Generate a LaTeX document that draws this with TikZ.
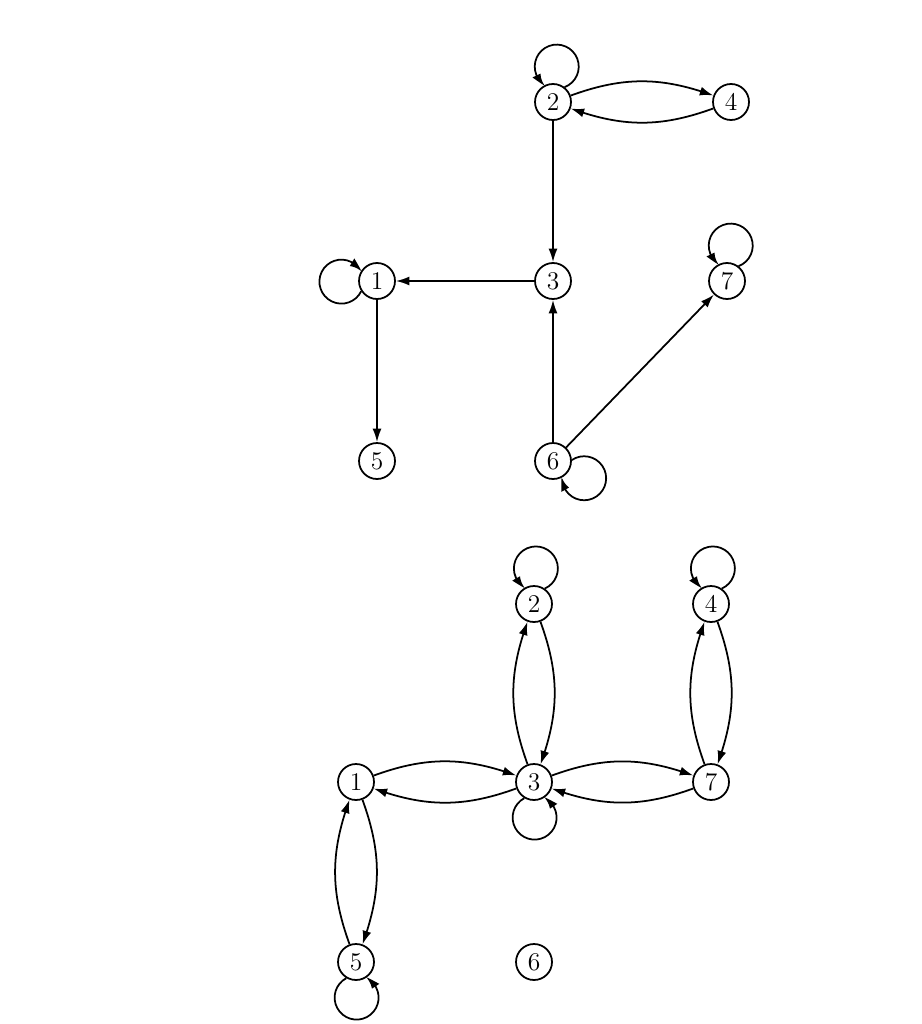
\documentclass[tikz,border=0pt]{standalone}
\usetikzlibrary{arrows.meta,bending}
\newcommand{\myloop}[3]{% node, direction angle, +1 ccw / -1 cw
  \pgfmathsetmacro{\lpA}{#2-#3*33}%
  \pgfmathsetmacro{\lpB}{#2-#3*154}%
  \pgfmathsetmacro{\lpC}{#3*308}%
  \draw[arr] (#1.\lpA) arc[start angle=\lpB, delta angle=\lpC, radius=0.44cm];}
\begin{document}
\begin{tikzpicture}[x=0.02cm,y=0.02cm,
  vtx/.style={circle,draw,line width=1pt,minimum size=0.72cm,inner sep=0pt,font=\fontsize{14.5}{16}\selectfont},
  arr/.style={line width=1pt,-{Latex[length=2.7mm,width=1.8mm,bend]}},
  bl/.style={arr,bend left=20}]
\useasboundingbox (0,0) rectangle (922,-1024);
% top graph
\node[vtx] (a2) at (553,-102) {2};
\node[vtx] (a4) at (731,-102) {4};
\node[vtx] (a1) at (377,-281) {1};
\node[vtx] (a3) at (553,-281) {3};
\node[vtx] (a7) at (727,-281) {7};
\node[vtx] (a5) at (377,-461) {5};
\node[vtx] (a6) at (553,-461) {6};
\myloop{a2}{85}{1}
\draw[bl] (a2) to (a4);
\draw[bl] (a4) to (a2);
\draw[arr] (a2) -- (a3);
\draw[arr] (a3) -- (a1);
\myloop{a1}{180}{-1}
\draw[arr] (a1) -- (a5);
\draw[arr] (a6) -- (a3);
\draw[arr] (a6) -- (a7);
\myloop{a7}{85}{1}
\myloop{a6}{-30}{-1}
% bottom graph
\node[vtx] (b2) at (534,-604) {2};
\node[vtx] (b4) at (711,-604) {4};
\node[vtx] (b1) at (356,-782) {1};
\node[vtx] (b3) at (534,-782) {3};
\node[vtx] (b7) at (711,-782) {7};
\node[vtx] (b5) at (356,-962) {5};
\node[vtx] (b6) at (534,-962) {6};
\myloop{b2}{88}{1}
\myloop{b4}{88}{1}
\draw[bl] (b2) to (b3);
\draw[bl] (b3) to (b2);
\draw[bl] (b7) to (b4);
\draw[bl] (b4) to (b7);
\draw[bl] (b1) to (b3);
\draw[bl] (b3) to (b1);
\draw[bl] (b3) to (b7);
\draw[bl] (b7) to (b3);
\draw[bl] (b5) to (b1);
\draw[bl] (b1) to (b5);
\myloop{b3}{272}{1}
\myloop{b5}{272}{1}
\end{tikzpicture}
\end{document}
